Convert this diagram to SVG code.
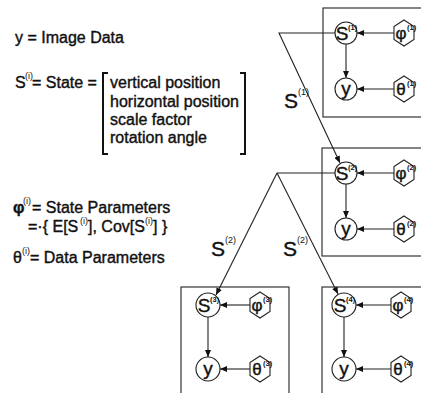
<svg xmlns="http://www.w3.org/2000/svg" width="421" height="393" viewBox="0 0 421 393">
<style>
text{font-family:"Liberation Sans",Arial,sans-serif;fill:#111;stroke:#111;stroke-width:0.4}
.t{font-size:16px}
.sup{font-size:9px;stroke:none}
.nsup{font-size:7.5px;stroke:none;font-weight:bold}
.big{font-size:21px}
.nl{font-size:19px;text-anchor:middle}
.hl{font-size:17px;text-anchor:middle}
.plate{fill:none;stroke:#222;stroke-width:1.1}
.node{fill:#fff;stroke:#222;stroke-width:1.1}
.edge{fill:none;stroke:#222;stroke-width:1.1}
.br{fill:none;stroke:#111;stroke-width:2}
</style>
<defs>
<marker id="ah" markerUnits="userSpaceOnUse" markerWidth="8" markerHeight="6" refX="7" refY="3" orient="auto">
<path d="M0,0 L7,3 L0,6 z" fill="#111"/>
</marker>
</defs>
<rect width="421" height="393" fill="#fff"/>

<g id="legend">
<text class="t" x="15" y="43">y = Image Data</text>
<text class="t" x="15" y="88">S</text><text class="sup" x="25" y="79">(i)</text><text class="t" x="32" y="88">= State =</text>
<path class="br" d="M108,73 H103 V154 H108"/>
<path class="br" d="M240,73 H245 V154 H240"/>
<text class="t" x="110" y="88">vertical position</text>
<text class="t" x="110" y="107">horizontal position</text>
<text class="t" x="110" y="125">scale factor</text>
<text class="t" x="110" y="143">rotation angle</text>
<text class="t" x="13" y="213" font-weight="bold">φ</text><text class="sup" x="23" y="204">(i)</text><text class="t" x="32" y="213">= State Parameters</text>
<text class="t" x="28" y="232">=·{ E[S</text><text class="sup" x="80" y="224">(i)</text><text class="t" x="88" y="232">], Cov[S</text><text class="sup" x="145" y="224">(i)</text><text class="t" x="153" y="232">] }</text>
<text class="t" x="13" y="263">θ</text><text class="sup" x="22" y="254">(i)</text><text class="t" x="30" y="263">= Data Parameters</text>
</g>

<g id="plate1"><rect class="plate" x="323" y="8" width="110" height="109"/></g>
<g id="plate2"><rect class="plate" x="322" y="148" width="110" height="108"/></g>
<g id="plate3"><rect class="plate" x="181" y="287" width="108" height="120"/></g>
<g id="plate4"><rect class="plate" x="322" y="287" width="110" height="120"/></g>

<g id="connectors">
<path class="edge" d="M335,33 H279 L340,163" marker-end="url(#ah)"/>
<path class="edge" d="M335,173 H277"/>
<path class="edge" d="M277,173 L216,295" marker-end="url(#ah)"/>
<path class="edge" d="M277,173 L338,294" marker-end="url(#ah)"/>
<line class="edge" x1="394" y1="33" x2="357" y2="33" marker-end="url(#ah)"/>
<line class="edge" x1="346" y1="44" x2="346" y2="78" marker-end="url(#ah)"/>
<line class="edge" x1="394" y1="89" x2="357" y2="89" marker-end="url(#ah)"/>
<line class="edge" x1="394" y1="173" x2="357" y2="173" marker-end="url(#ah)"/>
<line class="edge" x1="346" y1="184" x2="346" y2="218" marker-end="url(#ah)"/>
<line class="edge" x1="394" y1="229" x2="357" y2="229" marker-end="url(#ah)"/>
<line class="edge" x1="250" y1="305" x2="220" y2="305" marker-end="url(#ah)"/>
<line class="edge" x1="208" y1="317" x2="208" y2="357" marker-end="url(#ah)"/>
<line class="edge" x1="250" y1="369" x2="220" y2="369" marker-end="url(#ah)"/>
<line class="edge" x1="391" y1="305" x2="356" y2="305" marker-end="url(#ah)"/>
<line class="edge" x1="344" y1="317" x2="344" y2="357" marker-end="url(#ah)"/>
<line class="edge" x1="391" y1="369" x2="356" y2="369" marker-end="url(#ah)"/>
</g>

<g id="edge-labels">
<text class="big" x="284" y="108">S</text><text class="sup" x="298" y="95">(1)</text>
<text class="big" x="211" y="256">S</text><text class="sup" x="225" y="243">(2)</text>
<text class="big" x="283" y="256">S</text><text class="sup" x="297" y="243">(2)</text>
</g>

<g id="S1"><circle class="node" cx="346" cy="33" r="11"/><text class="nl" x="342" y="40">S</text><text class="nsup" x="348" y="30">(1)</text></g>
<g id="phi1"><path class="node" d="M404,20 L414,26.5 V39.5 L404,46 L394,39.5 V26.5 Z"/><text class="hl" x="401" y="39">φ</text><text class="nsup" x="407" y="30">(1)</text></g>
<g id="y1"><circle class="node" cx="346" cy="89" r="11"/><text class="nl" x="346" y="95">y</text></g>
<g id="theta1"><path class="node" d="M404,76 L414,82.5 V95.5 L404,102 L394,95.5 V82.5 Z"/><text class="hl" x="401" y="95">θ</text><text class="nsup" x="407" y="86">(1)</text></g>

<g id="S2"><circle class="node" cx="346" cy="173" r="11"/><text class="nl" x="342" y="180">S</text><text class="nsup" x="348" y="170">(2)</text></g>
<g id="phi2"><path class="node" d="M404,160 L414,166.5 V179.5 L404,186 L394,179.5 V166.5 Z"/><text class="hl" x="401" y="179">φ</text><text class="nsup" x="407" y="170">(2)</text></g>
<g id="y2"><circle class="node" cx="346" cy="229" r="11"/><text class="nl" x="346" y="235">y</text></g>
<g id="theta2"><path class="node" d="M404,216 L414,222.5 V235.5 L404,242 L394,235.5 V222.5 Z"/><text class="hl" x="401" y="235">θ</text><text class="nsup" x="407" y="226">(2)</text></g>

<g id="S3"><circle class="node" cx="208" cy="305" r="12"/><text class="nl" x="204" y="312">S</text><text class="nsup" x="210" y="302">(3)</text></g>
<g id="phi3"><path class="node" d="M260,292 L270,298.5 V311.5 L260,318 L250,311.5 V298.5 Z"/><text class="hl" x="257" y="311">φ</text><text class="nsup" x="263" y="302">(3)</text></g>
<g id="y3"><circle class="node" cx="208" cy="369" r="12"/><text class="nl" x="208" y="375">y</text></g>
<g id="theta3"><path class="node" d="M260,356 L270,362.5 V375.5 L260,382 L250,375.5 V362.5 Z"/><text class="hl" x="257" y="375">θ</text><text class="nsup" x="263" y="366">(3)</text></g>

<g id="S4"><circle class="node" cx="344" cy="305" r="12"/><text class="nl" x="340" y="312">S</text><text class="nsup" x="346" y="302">(4)</text></g>
<g id="phi4"><path class="node" d="M401,292 L411,298.5 V311.5 L401,318 L391,311.5 V298.5 Z"/><text class="hl" x="398" y="311">φ</text><text class="nsup" x="404" y="302">(4)</text></g>
<g id="y4"><circle class="node" cx="344" cy="369" r="12"/><text class="nl" x="344" y="375">y</text></g>
<g id="theta4"><path class="node" d="M401,356 L411,362.5 V375.5 L401,382 L391,375.5 V362.5 Z"/><text class="hl" x="398" y="375">θ</text><text class="nsup" x="404" y="366">(4)</text></g>
</svg>
